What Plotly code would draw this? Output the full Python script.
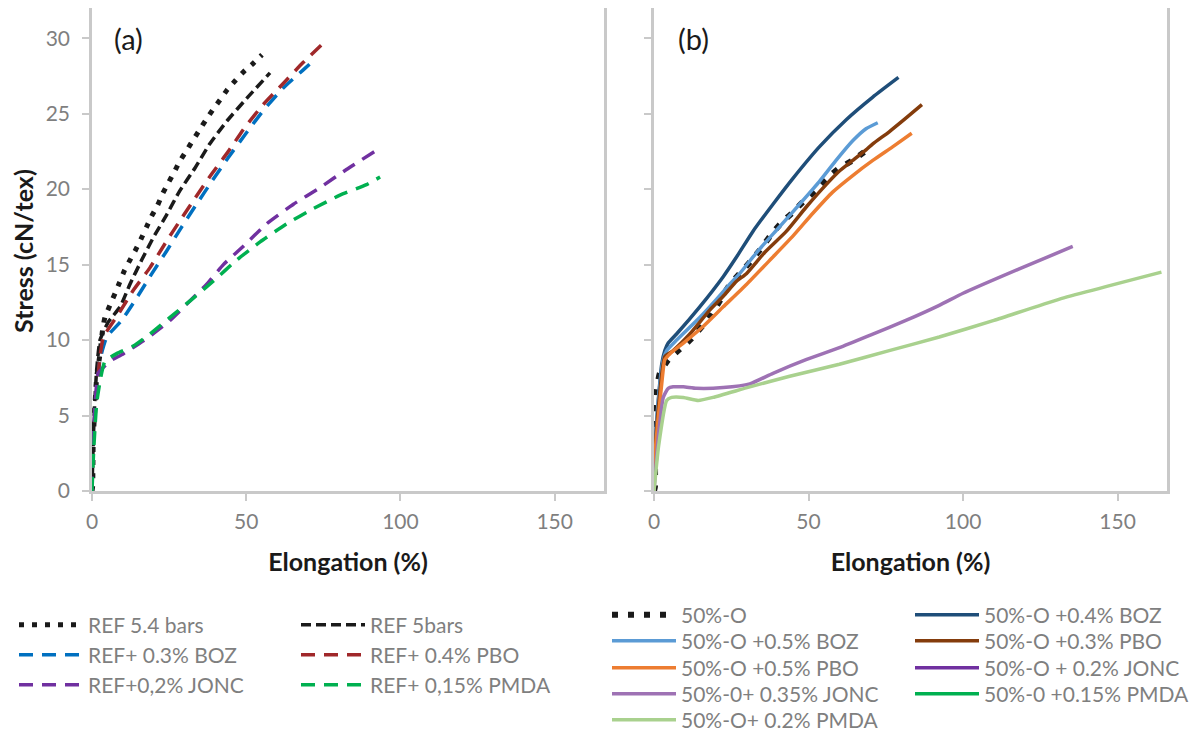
import plotly.graph_objects as go

# ---------------- Panel (a) data ----------------
ref54_x = [0, 0.2, 0.4, 1.0, 1.5, 2.6, 3.5, 4.2, 5.8, 7.5, 8.9, 10.5, 12.3, 14.2, 15.9, 17.7, 19.3, 21.2,
           22.9, 24.7, 26.6, 28.3, 30.5, 32.6, 34.8, 37.0, 39.3, 41.5, 43.9, 46.5, 49.3, 52.1, 55.1]
ref54_y = [0, 0.3, 3.4, 5.8, 7.5, 9.1, 10.8, 11.5, 12.3, 13.1, 13.8, 14.6, 15.3, 16.0, 16.7, 17.5, 18.2, 18.9,
           19.7, 20.4, 21.1, 21.8, 22.5, 23.2, 23.9, 24.6, 25.3, 25.9, 26.6, 27.2, 27.8, 28.3, 28.9]

ref5_x = [0, 0.3, 0.8, 1.5, 2.6, 5.3, 9.1, 12.3, 16.1, 19.9, 24.2, 28.5, 33.4, 38.2, 43.7, 50.1, 57.7]
ref5_y = [0, 2.5, 5.5, 8.0, 10.0, 11.2, 12.2, 13.7, 15.3, 16.8, 18.3, 19.9, 21.4, 23.0, 24.5, 26.0, 27.7]

boz_x = [0, 0.0, 0.4, 1.5, 2.6, 4.8, 9.6, 14.5, 19.4, 24.2, 29.1, 33.9, 38.8, 44.2, 49.6, 55.5, 62.0, 68.5, 72.3]
boz_y = [0, 1.8, 3.6, 6.5, 8.7, 10.2, 11.3, 12.8, 14.4, 15.9, 17.5, 19.0, 20.5, 22.1, 23.6, 25.2, 26.7, 27.9, 28.6]

pbo_x = [0, 0.4, 1.5, 2.6, 3.7, 8.5, 13.4, 18.8, 23.7, 28.5, 33.4, 38.8, 44.2, 49.6, 55.5, 62.0, 68.5, 74.6]
pbo_y = [0, 3.6, 6.6, 8.9, 10.2, 11.7, 13.3, 14.8, 16.4, 17.9, 19.4, 21.0, 22.5, 24.1, 25.6, 27.0, 28.4, 29.6]

jonc_x = [0, 0.0, 1.0, 2.0, 3.7, 5.8, 10.2, 17.7, 25.3, 31.8, 37.2, 42.6, 49.0, 56.6, 65.3, 73.9, 82.5, 91.7]
jonc_y = [0, 1.2, 5.8, 7.8, 8.2, 8.6, 9.1, 10.1, 11.3, 12.6, 13.7, 15.0, 16.2, 17.7, 19.0, 20.1, 21.3, 22.5]

pmda_x = [0, 0.5, 1.5, 2.8, 4.2, 8.0, 13.4, 18.8, 25.3, 31.8, 39.3, 46.9, 54.5, 63.1, 71.7, 80.4, 89.0, 93.4]
pmda_y = [0, 2.5, 5.8, 7.5, 8.6, 9.1, 9.6, 10.4, 11.5, 12.6, 13.9, 15.3, 16.5, 17.7, 18.7, 19.6, 20.3, 20.8]

# ---------------- Panel (b) data ----------------
o50_x = [0, 0.3, 0.3, 0.3, 0.9, 1.9, 4.6, 8.4, 12.2, 18.6, 24.3, 27.7, 31.2, 34.4, 37.6, 40.9, 44.6, 48.4,
         52.2, 56.0, 60.0, 64.3, 68.9]
o50_y = [0, 0.3, 2.6, 4.7, 6.7, 7.8, 8.7, 9.4, 10.1, 11.7, 13.6, 14.4, 15.2, 16.0, 16.9, 17.7, 18.4, 19.2,
         19.9, 20.7, 21.4, 21.9, 22.6]

boz04_x = [0, 0.3, 1.4, 2.5, 3.5, 4.6, 7.3, 14.8, 22.4, 26.7, 32.0, 38.5, 44.9, 53.5, 62.2, 70.8, 79.1]
boz04_y = [0, 2.7, 6.0, 8.4, 9.3, 9.8, 10.4, 12.2, 14.2, 15.5, 17.2, 19.0, 20.7, 22.8, 24.6, 26.1, 27.4]

boz05_x = [0, 0.3, 1.4, 3.0, 4.1, 7.3, 14.8, 20.2, 24.5, 27.7, 33.6, 40.6, 47.1, 53.5, 58.9, 64.3, 68.6, 72.4]
boz05_y = [0, 2.5, 6.0, 8.7, 9.3, 10.0, 11.5, 12.7, 13.7, 14.4, 15.9, 17.5, 19.0, 20.5, 21.9, 23.2, 24.0, 24.4]

pbo03_x = [0, 0.3, 1.4, 3.5, 6.2, 11.6, 18.1, 22.4, 26.7, 29.9, 35.8, 42.8, 49.2, 55.7, 60.0, 64.3, 68.6,
           70.8, 76.1, 81.5, 86.7]
pbo03_y = [0, 2.4, 5.5, 8.9, 9.3, 10.4, 12.0, 12.9, 13.9, 14.4, 15.8, 17.2, 18.8, 20.3, 21.2, 21.9, 22.6,
           23.0, 23.8, 24.7, 25.6]

pbo05_x = [0, 0.3, 1.4, 2.5, 3.5, 5.2, 9.5, 15.9, 22.4, 30.0, 38.0, 45.0, 51.4, 57.8, 64.3, 70.8, 77.2, 83.4]
pbo05_y = [0, 2.4, 4.9, 7.1, 8.7, 9.1, 9.8, 10.9, 12.2, 13.7, 15.4, 16.9, 18.4, 19.8, 20.9, 21.9, 22.8, 23.7]

jonc02_x = [0]
jonc02_y = [0]

jonc035_x = [0, 1.4, 3.0, 4.6, 6.2, 9.5, 13.8, 22.4, 31.0, 38.5, 49.2, 60.0, 70.8, 81.5, 92.3, 100.0,
             118.0, 135.5]
jonc035_y = [0, 3.6, 6.2, 6.8, 6.9, 6.9, 6.8, 6.85, 7.1, 7.8, 8.7, 9.5, 10.4, 11.3, 12.3, 13.1, 14.7, 16.2]

pmda015_x = [0]
pmda015_y = [0]

pmda02_x = [0, 1.5, 4.1, 5.7, 9.5, 14.3, 19.1, 31.0, 43.9, 60.0, 76.1, 92.3, 110.0, 131.0, 164.2]
pmda02_y = [0, 3.0, 6.0, 6.2, 6.2, 6.0, 6.2, 6.9, 7.6, 8.4, 9.3, 10.2, 11.3, 12.7, 14.5]

# ---------------- Figure ----------------
FONT = "Lato"
GREY_TXT = "#7F7F7F"
AXIS_COL = "#C9C9C9"
LW = 3.5
OFF = 8                      # default page body margin
W, H = 1202 - OFF, 735 - OFF
ML, MR, MT, MB = 84, 35, 0, 244
PW = W - ML - MR
PH = H - MT - MB


def fx(px):
    """reference-page pixel x -> paper fraction"""
    return (px - OFF - ML) / PW


def fy(py):
    """reference-page pixel y -> paper fraction"""
    return (H - MB - (py - OFF)) / PH


fig = go.Figure()
legends = {}


def add(x, y, name, color, dash, xa, ya, lx, ly, fsize, width=LW):
    key = "legend" if not legends else "legend%d" % (len(legends) + 1)
    legends[key] = dict(
        xref="container", yref="container", x=(lx - OFF - 4) / W, y=1 - (ly - OFF) / H,
        xanchor="left", yanchor="middle", orientation="v",
        font=dict(family=FONT, size=fsize, color=GREY_TXT),
        bgcolor="rgba(0,0,0,0)", borderwidth=0, itemwidth=64,
        itemclick=False, itemdoubleclick=False)
    fig.add_trace(go.Scatter(
        x=x, y=y, mode="lines", name=name, xaxis=xa, yaxis=ya,
        line=dict(color=color, width=width, dash=dash, shape="spline", smoothing=0.5),
        legend=key, hoverinfo="skip"))


LONG = "14px,9px"
LF, RF = 21, 21
# Panel (a) legend: symbol starts at x 18 / 300, rows 625/655/685
AX0, AX1 = 18, 300
add(ref54_x, ref54_y, "REF 5.4 bars", "#1A1A1A", "5px,8px", "x", "y", AX0, 625, LF, width=5)
add(ref5_x, ref5_y, "REF 5bars", "#1A1A1A", "10px,5px", "x", "y", AX1, 625, LF)
add(boz_x, boz_y, "REF+ 0.3% BOZ", "#0070C0", LONG, "x", "y", AX0, 655, LF)
add(pbo_x, pbo_y, "REF+ 0.4% PBO", "#A0282A", LONG, "x", "y", AX1, 655, LF)
add(jonc_x, jonc_y, "REF+0,2% JONC", "#7030A0", LONG, "x", "y", AX0, 685, LF)
add(pmda_x, pmda_y, "REF+ 0,15% PMDA", "#00B050", LONG, "x", "y", AX1, 685, LF)

# Panel (b) legend: symbol starts at x 608 / 912, rows 615 .. 720
BX0, BX1 = 611, 914
add(o50_x, o50_y, "50%-O", "#1A1A1A", "6px,10px", "x2", "y2", BX0, 615, RF, width=6)
add(boz04_x, boz04_y, "50%-O +0.4% BOZ", "#1F4E79", "solid", "x2", "y2", BX1, 615, RF)
add(boz05_x, boz05_y, "50%-O +0.5% BOZ", "#5B9BD5", "solid", "x2", "y2", BX0, 641, RF)
add(pbo03_x, pbo03_y, "50%-O +0.3% PBO", "#843C0C", "solid", "x2", "y2", BX1, 641, RF)
add(pbo05_x, pbo05_y, "50%-O +0.5% PBO", "#ED7D31", "solid", "x2", "y2", BX0, 668, RF)
add(jonc02_x, jonc02_y, "50%-O + 0.2% JONC", "#7030A0", "solid", "x2", "y2", BX1, 668, RF)
add(jonc035_x, jonc035_y, "50%-0+ 0.35% JONC", "#9E72B4", "solid", "x2", "y2", BX0, 694, RF)
add(pmda015_x, pmda015_y, "50%-0 +0.15% PMDA", "#00B050", "solid", "x2", "y2", BX1, 694, RF)
add(pmda02_x, pmda02_y, "50%-O+ 0.2% PMDA", "#A9D18E", "solid", "x2", "y2", BX0, 720, RF)

axis_common = dict(
    showline=True, linecolor=AXIS_COL, linewidth=2.5, mirror=True,
    showgrid=False, zeroline=False, ticks="outside", ticklen=7, tickwidth=1.5,
    tickcolor=AXIS_COL, tickfont=dict(family=FONT, size=21, color=GREY_TXT))

title_font = dict(family=FONT, size=25, color="#1A1A1A", weight="bold")

fig.update_layout(
    width=W, height=H,
    paper_bgcolor="white", plot_bgcolor="white",
    margin=dict(l=ML, r=MR, t=MT, b=MB, autoexpand=False),
    showlegend=True,
    xaxis=dict(domain=[0, fx(604)], range=[0, 166], dtick=50, anchor="y", ticklabelstandoff=3,
               title=dict(text="Elongation (%)", font=title_font, standoff=22), **axis_common),
    yaxis=dict(domain=[0, 1], range=[0, 32], dtick=5, anchor="x", ticklabelstandoff=8,
               **axis_common),
    xaxis2=dict(domain=[fx(654), 1], range=[0, 166], dtick=50, anchor="y2", ticklabelstandoff=3,
                title=dict(text="Elongation (%)", font=title_font, standoff=22), **axis_common),
    yaxis2=dict(domain=[0, 1], range=[0, 32], dtick=5, anchor="x2", showticklabels=False,
                **axis_common),
    # inner half of the crossing ticks on panel (b)
    yaxis3=dict(domain=[0, 1], range=[0, 32], dtick=5, anchor="x2", overlaying="y2",
                showticklabels=False, showline=False, showgrid=False, zeroline=False,
                ticks="inside", ticklen=6, tickwidth=1.5, tickcolor=AXIS_COL),
    **legends,
)

# y-axis title
fig.add_annotation(x=fx(23), y=fy(251), xref="paper", yref="paper", text="<b>Stress (cN/tex)</b>",
                   textangle=-90, showarrow=False, xanchor="center", yanchor="middle",
                   font=dict(family=FONT, size=25, color="#1A1A1A"))
# panel labels
fig.add_annotation(x=fx(128), y=fy(38), xref="paper", yref="paper", xanchor="center", yanchor="middle",
                   text="(a)", showarrow=False, font=dict(family=FONT, size=29, color="#1A1A1A"))
fig.add_annotation(x=fx(693), y=fy(38), xref="paper", yref="paper", xanchor="center", yanchor="middle",
                   text="(b)", showarrow=False, font=dict(family=FONT, size=29, color="#1A1A1A"))

fig.write_html("out.html")
